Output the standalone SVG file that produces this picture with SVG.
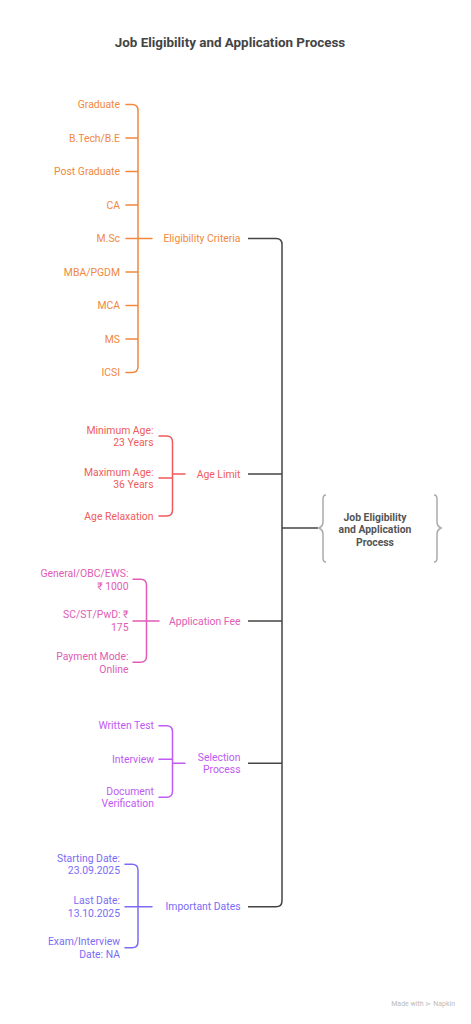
<svg xmlns="http://www.w3.org/2000/svg" width="471" height="1024" viewBox="0 0 471 1024">
<style>
text{font-family:Roboto,"Liberation Sans",sans-serif;font-size:10.4px}
.r{text-anchor:end}
.b{fill:none;stroke-width:1.5;stroke-linecap:round}
.o{fill:#F0883E}.ob{stroke:#F0883E}
.rd{fill:#EF5B5B}.rdb{stroke:#EF5B5B}
.p{fill:#E05CB5}.pb{stroke:#E05CB5}
.v{fill:#BF5AF2}.vb{stroke:#BF5AF2}
.i{fill:#7B6CF6}.ib{stroke:#7B6CF6}
.tr{fill:none;stroke:#444;stroke-width:1.5}
</style>
<rect width="471" height="1024" fill="#fff"/>
<text x="230" y="46.5" text-anchor="middle" style="font-size:13.4px;font-weight:bold;fill:#444">Job Eligibility and Application Process</text>

<g id="connectors">
<path class="tr" d="M248 238.5H276Q282 238.5 282 244.5V900.7Q282 906.7 276 906.7H248"/>
<path class="tr" d="M248 474H282M248 621H282M248 763.3H282M282 528H318"/>
<path class="b ob" d="M126 104.5H132Q138 104.5 138 110.5V366.5Q138 372.5 132 372.5H126M126 138H138M126 171.5H138M126 205H138M126 238.5H152M126 272H138M126 305.5H138M126 339H138"/>
<path class="b rdb" d="M159 436H166.5Q172.5 436 172.5 442V510Q172.5 516 166.5 516H159M159 478H172.5M172.5 474H185"/>
<path class="b pb" d="M133 579.3H140.5Q146.5 579.3 146.5 585.3V656.3Q146.5 662.3 140.5 662.3H133M133 621H159"/>
<path class="b vb" d="M159 725.7H166.5Q172.5 725.7 172.5 731.7V791.3Q172.5 797.3 166.5 797.3H159M159 759.3H172.5M172.5 763.3H185"/>
<path class="b ib" d="M125 864.3H132Q138 864.3 138 870.3V941.7Q138 947.7 132 947.7H125M125 906.7H152"/>
</g>

<g id="root">
<path d="M326 495Q323 495 323 499V522Q323 526 319 528Q323 530 323 534V558Q323 562 326 562M434 495Q437 495 437 499V522Q437 526 441 528Q437 530 437 534V558Q437 562 434 562" fill="none" stroke="#aaa" stroke-width="1.5"/>
<text x="375" y="520.5" text-anchor="middle" style="font-weight:bold;fill:#555">Job Eligibility<tspan x="375" dy="12.5">and Application</tspan><tspan x="375" dy="12.5">Process</tspan></text>
</g>

<g id="eligibility">
<text class="r o" x="240.5" y="242">Eligibility Criteria</text>
<text class="r o" x="120" y="108">Graduate</text>
<text class="r o" x="120" y="141.5">B.Tech/B.E</text>
<text class="r o" x="120" y="175">Post Graduate</text>
<text class="r o" x="120" y="208.5">CA</text>
<text class="r o" x="120" y="242">M.Sc</text>
<text class="r o" x="120" y="275.5">MBA/PGDM</text>
<text class="r o" x="120" y="309">MCA</text>
<text class="r o" x="120" y="342.5">MS</text>
<text class="r o" x="120" y="376">ICSI</text>
</g>

<g id="age">
<text class="r rd" x="240.5" y="477.5">Age Limit</text>
<text class="r rd" x="153.5" y="433.5">Minimum Age:<tspan x="153.5" dy="12.5">23 Years</tspan></text>
<text class="r rd" x="153.5" y="475.5">Maximum Age:<tspan x="153.5" dy="12.5">36 Years</tspan></text>
<text class="r rd" x="153.5" y="519.5">Age Relaxation</text>
</g>

<g id="fee">
<text class="r p" x="240.5" y="624.5">Application Fee</text>
<text class="r p" x="128.5" y="577">General/OBC/EWS:<tspan x="128.5" dy="12.5">₹ 1000</tspan></text>
<text class="r p" x="128.5" y="618">SC/ST/PwD: ₹<tspan x="128.5" dy="12.5">175</tspan></text>
<text class="r p" x="128.5" y="660">Payment Mode:<tspan x="128.5" dy="12.5">Online</tspan></text>
</g>

<g id="selection">
<text class="r v" x="240.5" y="760.5">Selection<tspan x="240.5" dy="12.5">Process</tspan></text>
<text class="r v" x="154" y="729">Written Test</text>
<text class="r v" x="154" y="762.5">Interview</text>
<text class="r v" x="154" y="794.5">Document<tspan x="154" dy="12.5">Verification</tspan></text>
</g>

<g id="dates">
<text class="r i" x="240.5" y="910">Important Dates</text>
<text class="r i" x="120" y="861.5">Starting Date:<tspan x="120" dy="12.5">23.09.2025</tspan></text>
<text class="r i" x="120" y="904">Last Date:<tspan x="120" dy="12.5">13.10.2025</tspan></text>
<text class="r i" x="120" y="945">Exam/Interview<tspan x="120" dy="12.5">Date: NA</tspan></text>
</g>

<text x="455" y="1006" text-anchor="end" style="font-size:7px;fill:#bbb">Made with ⋗ Napkin</text>
</svg>
